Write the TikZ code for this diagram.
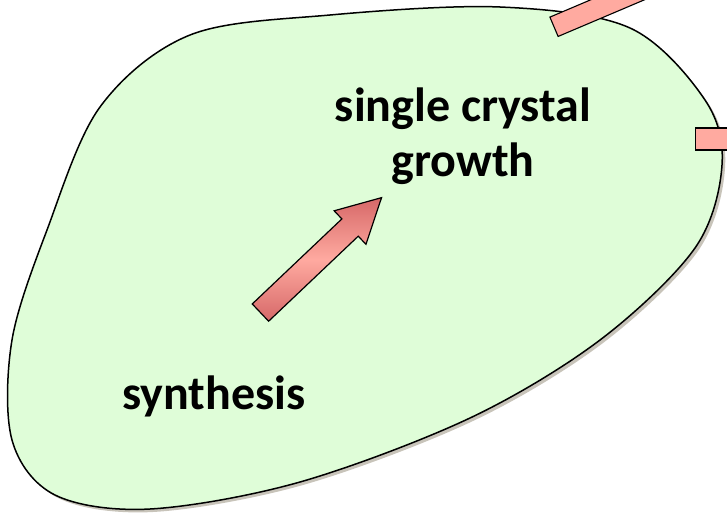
\documentclass[tikz,border=0pt]{standalone}
\usepackage{fontspec}
\setmainfont{Carlito}
\usetikzlibrary{positioning,shapes.arrows,shadows}
\definecolor{blobgreen}{RGB}{223,253,216}
\definecolor{barpink}{RGB}{255,170,160}
\definecolor{arrowdark}{RGB}{214,104,104}
\definecolor{shadowgrey}{RGB}{200,196,186}

\begin{document}
\begin{tikzpicture}[
        x=1pt, y=-1pt,
        blob/.style={draw=black, line width=1.5pt, fill=blobgreen,
            drop shadow={shadow xshift=3pt, shadow yshift=-3pt, fill=shadowgrey, opacity=1}},
        stagetext/.style={font=\fontsize{48}{55}\selectfont\bfseries, align=center, inner sep=0pt},
        blockarrow/.style={single arrow, draw=black, line width=1.2pt, inner xsep=0pt, inner ysep=11.3pt,
            single arrow head extend=11.2pt, single arrow tip angle=56,
            single arrow head indent=0pt, top color=arrowdark, bottom color=arrowdark, middle color=barpink},
        bar/.style={rectangle, draw=black, line width=1.1pt, fill=barpink, inner sep=0pt, minimum height=21pt}
    ]
    \useasboundingbox (0,0) rectangle (727,514);
    \clip (0,0) rectangle (727,514);

    % the region
    \path[blob] plot[smooth cycle, tension=0.55] coordinates {
        (330,15) (500,7) (630,28) (705,100) (722,165) (695,248) (600,340)
        (470,418) (300,482) (150,509) (55,495) (12,440) (12,340) (47,230)
        (100,107) (190,35)};

    \node[stagetext] (growth) at (463,136) {single crystal\\growth};
    \node[stagetext, anchor=base] (synth) at (214,409) {synthesis};

    \node[blockarrow, minimum height=167pt, rotate=43.5, anchor=tail] (grow) at (260,313) {};

    % arrows leaving the picture
    \node[bar, minimum width=300pt, anchor=west, rotate=23] (out1) at (553.5,27) {};
    \node[bar, minimum width=60pt, minimum height=22pt, anchor=west] (out2) at (695,139) {};
\end{tikzpicture}
\end{document}
